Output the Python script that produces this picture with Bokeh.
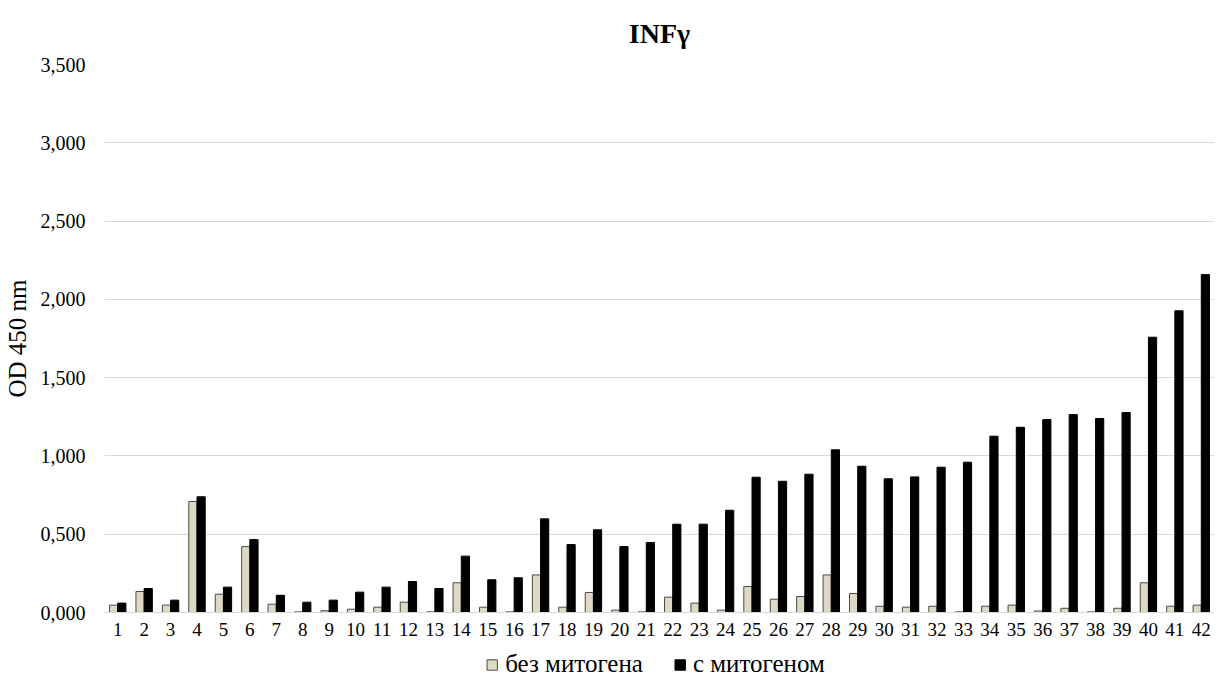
from bokeh.plotting import figure
from bokeh.layouts import column
from bokeh.models import FactorRange, Range1d, Legend, LegendItem, ColumnDataSource
from bokeh.transform import dodge
from bokeh.embed import file_html
from bokeh.resources import INLINE

categories = [str(i) for i in range(1, 43)]
without_mitogen = [0.047, 0.134, 0.047, 0.709, 0.117, 0.421, 0.053, 0.004, 0.011, 0.021,
                   0.034, 0.066, 0.004, 0.190, 0.034, 0.004, 0.240, 0.034, 0.128, 0.015,
                   0.004, 0.098, 0.060, 0.015, 0.166, 0.085, 0.102, 0.240, 0.121, 0.040,
                   0.034, 0.040, 0.004, 0.040, 0.047, 0.010, 0.027, 0.004, 0.027, 0.190,
                   0.040, 0.047]
with_mitogen = [0.060, 0.153, 0.079, 0.739, 0.162, 0.466, 0.110, 0.066, 0.079, 0.130,
                0.162, 0.198, 0.153, 0.360, 0.209, 0.222, 0.598, 0.434, 0.528, 0.421,
                0.447, 0.564, 0.564, 0.653, 0.864, 0.838, 0.883, 1.039, 0.934, 0.854,
                0.866, 0.928, 0.960, 1.126, 1.183, 1.232, 1.264, 1.239, 1.277, 1.758,
                1.927, 2.158]
series_names = ["без митогена", "с митогеном"]
y_ticks = [0, 0.5, 1.0, 1.5, 2.0, 2.5, 3.0, 3.5]
y_tick_labels = ["0,000", "0,500", "1,000", "1,500", "2,000", "2,500", "3,000", "3,500"]
title_text = "INFγ"
y_label = "OD 450 nm"

FONT = "Liberation Serif"
BEIGE = "#ddd9c4"
BEIGE_LINE = "#4a4a4a"

source = ColumnDataSource(dict(cat=categories, a=without_mitogen, b=with_mitogen))

p = figure(frame_width=1110, frame_height=548,
           x_range=FactorRange(*categories, range_padding=0),
           y_range=Range1d(0, 3.5), output_backend="svg", toolbar_location=None,
           title=title_text, min_border_left=0, min_border_right=0,
           min_border_top=0, min_border_bottom=0)

r1 = p.vbar(x=dodge("cat", -0.155, range=p.x_range), top="a", width=0.31, source=source,
            fill_color=BEIGE, line_color=BEIGE_LINE, line_width=1)
r2 = p.vbar(x=dodge("cat", 0.155, range=p.x_range), top="b", width=0.31, source=source,
            fill_color="#000000", line_color="#000000", line_width=1)

p.title.align = "center"
p.title.text_font = FONT
p.title.text_font_size = "28px"
p.title.text_font_style = "bold"
p.title.text_color = "#000000"
p.title.standoff = 31

p.yaxis.ticker = y_ticks
p.yaxis.major_label_overrides = {t: l for t, l in zip(y_ticks, y_tick_labels)}
p.yaxis.axis_label = y_label
p.yaxis.axis_label_text_font = FONT
p.yaxis.axis_label_text_font_size = "25px"
p.yaxis.axis_label_text_font_style = "normal"
p.yaxis.axis_label_text_color = "#000000"
p.yaxis.axis_label_standoff = 7
p.yaxis.major_label_text_font = FONT
p.yaxis.major_label_text_font_size = "20px"
p.yaxis.major_label_text_color = "#000000"
p.yaxis.major_label_standoff = 19
p.yaxis.axis_line_color = None
p.yaxis.major_tick_line_color = None
p.yaxis.minor_tick_line_color = None
p.yaxis.major_tick_in = 0
p.yaxis.major_tick_out = 0

p.xaxis.major_label_text_font = FONT
p.xaxis.major_label_text_font_size = "19px"
p.xaxis.major_label_text_color = "#000000"
p.xaxis.major_label_standoff = 10
p.xaxis.axis_line_color = "#d9d9d9"
p.xaxis.major_tick_line_color = None
p.xaxis.minor_tick_line_color = None
p.xaxis.major_tick_in = 0
p.xaxis.major_tick_out = 0

p.xgrid.grid_line_color = None
p.ygrid.grid_line_color = "#d9d9d9"
p.ygrid.grid_line_width = 1
p.outline_line_color = None

# strip below the chart that carries the legend; its proxy renderers are hidden
lf = figure(width=1206, height=40, x_range=p.x_range, y_range=Range1d(-2, -1),
            x_axis_type=None, y_axis_type=None, output_backend="svg",
            toolbar_location=None, min_border=0)
lf.grid.visible = False
lf.outline_line_color = None
lr1 = lf.vbar(x=dodge("cat", -0.155, range=lf.x_range), top="a", width=0.31, source=source,
              fill_color=BEIGE, line_color=BEIGE_LINE, line_width=1)
lr2 = lf.vbar(x=dodge("cat", 0.155, range=lf.x_range), top="b", width=0.31, source=source,
              fill_color="#000000", line_color="#000000", line_width=1)
lr1.visible = False
lr2.visible = False

legend = Legend(items=[LegendItem(label=series_names[0], renderers=[lr1]),
                       LegendItem(label=series_names[1], renderers=[lr2])],
                orientation="horizontal", location="bottom_center")
legend.label_text_font = FONT
legend.label_text_font_size = "25px"
legend.label_text_color = "#000000"
legend.label_height = 20
legend.glyph_width = 13
legend.glyph_height = 13
legend.spacing = 30
legend.label_standoff = 7
legend.border_line_color = None
legend.background_fill_alpha = 0
legend.padding = 0
legend.margin = 0
legend.click_policy = "none"
lf.add_layout(legend)

layout = column(p, lf, spacing=0)
open("out.html", "w").write(file_html(layout, INLINE))
